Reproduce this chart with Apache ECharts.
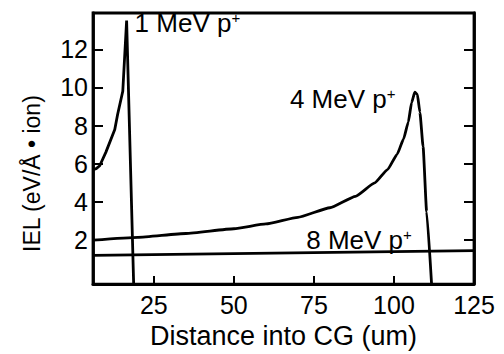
<!DOCTYPE html>
<html>
<head>
<meta charset="utf-8">
<script src="https://cdn.jsdelivr.net/npm/echarts@6/dist/echarts.min.js"></script>
<style>html,body{margin:0;padding:0;background:#fff}#c{width:504px;height:354px}</style>
</head>
<body>
<div id="c"></div>
<script>
var xTicks = [25, 50, 75, 100, 125];
var yTicks = [2, 4, 6, 8, 10, 12];
var seriesNames = ['1 MeV p+', '4 MeV p+', '8 MeV p+'];
var mev1 = [[6, 5.7], [7, 5.75], [8.1, 5.9], [10, 6.6], [12.8, 7.8], [13.7, 8.6], [15.3, 9.8], [16.5, 13.5], [18.7, -0.3]];
var mev4 = [[6, 2.0], [20, 2.15], [35, 2.35], [50, 2.6], [60, 2.85], [70, 3.2], [80, 3.7], [88, 4.3], [94, 5.0], [98, 5.7], [101, 6.5], [103, 7.3], [104.5, 8.2], [105.5, 9.2], [106.5, 9.75], [107.3, 9.65], [108.1, 8.7], [109.1, 6.9], [110.2, 3.5], [111.75, -0.3]];
var mev8 = [[6, 1.2], [125, 1.45]];
var labelPos = [[19.0, 13.4], [67.5, 9.42], [72.6, 2.0]];

var FONT = '"Liberation Sans", Arial, sans-serif';
var chart = echarts.init(document.getElementById('c'), null, {renderer: 'svg'});

function richLabel(name) {
  var base = name.slice(0, -1);
  return '{n|' + base + '}{s|+}';
}
function mk(i) {
  return {
    symbol: 'circle', symbolSize: 0, silent: true,
    data: [{coord: labelPos[i]}],
    label: {
      show: true, position: 'right', distance: 0,
      formatter: richLabel(seriesNames[i]),
      rich: {
        n: {fontSize: 26, fontFamily: FONT, color: '#000'},
        s: {fontSize: 15, fontFamily: FONT, color: '#000', verticalAlign: 'top', padding: [0, 0, 10, 0]}
      }
    }
  };
}
var lineStyle = {color: '#000', width: 2.8};
var option = {
  animation: false,
  grid: {left: 93, right: 30, top: 13, bottom: 60, show: true, borderColor: '#000', borderWidth: 2.8, backgroundColor: 'transparent'},
  xAxis: {
    type: 'value', min: 6, max: 125,
    splitLine: {show: false},
    axisLine: {show: true, onZero: false, lineStyle: {color: '#000', width: 2.8}},
    axisTick: {show: true, inside: true, length: 8, customValues: xTicks, lineStyle: {color: '#000', width: 2}},
    axisLabel: {customValues: xTicks, color: '#000', fontSize: 25, fontFamily: FONT, margin: 8},
    name: 'Distance into CG (um)', nameLocation: 'middle', nameGap: 26,
    nameTextStyle: {color: '#000', fontSize: 27, fontFamily: FONT, verticalAlign: 'top'}
  },
  yAxis: [{
    type: 'value', min: -0.3, max: 13.9,
    splitLine: {show: false},
    axisLine: {show: true, onZero: false, lineStyle: {color: '#000', width: 2.8}},
    axisTick: {show: true, inside: true, length: 10, customValues: yTicks, lineStyle: {color: '#000', width: 2}},
    axisLabel: {customValues: yTicks, color: '#000', fontSize: 25, fontFamily: FONT, margin: 5},
    name: 'IEL (eV/Å \u2022 ion)', nameLocation: 'middle', nameGap: 50, nameRotate: 90,
    nameTextStyle: {color: '#000', fontSize: 23, fontFamily: FONT, padding: [0, 50, 0, 0]}
  }, {
    type: 'value', min: -0.3, max: 13.9, position: 'right',
    splitLine: {show: false},
    axisLine: {show: true, onZero: false, lineStyle: {color: '#000', width: 2.8}},
    axisTick: {show: true, inside: true, length: 10, customValues: yTicks, lineStyle: {color: '#000', width: 2}},
    axisLabel: {show: false}
  }],
  series: [
    {name: seriesNames[0], type: 'line', data: mev1, showSymbol: false, smooth: false, lineStyle: lineStyle, markPoint: mk(0)},
    {name: seriesNames[1], type: 'line', data: mev4, showSymbol: false, smooth: 0.15, smoothMonotone: 'x', lineStyle: lineStyle, markPoint: mk(1)},
    {name: seriesNames[2], type: 'line', data: mev8, showSymbol: false, lineStyle: lineStyle, markPoint: mk(2)}
  ]
};
chart.setOption(option);
</script>
</body>
</html>
